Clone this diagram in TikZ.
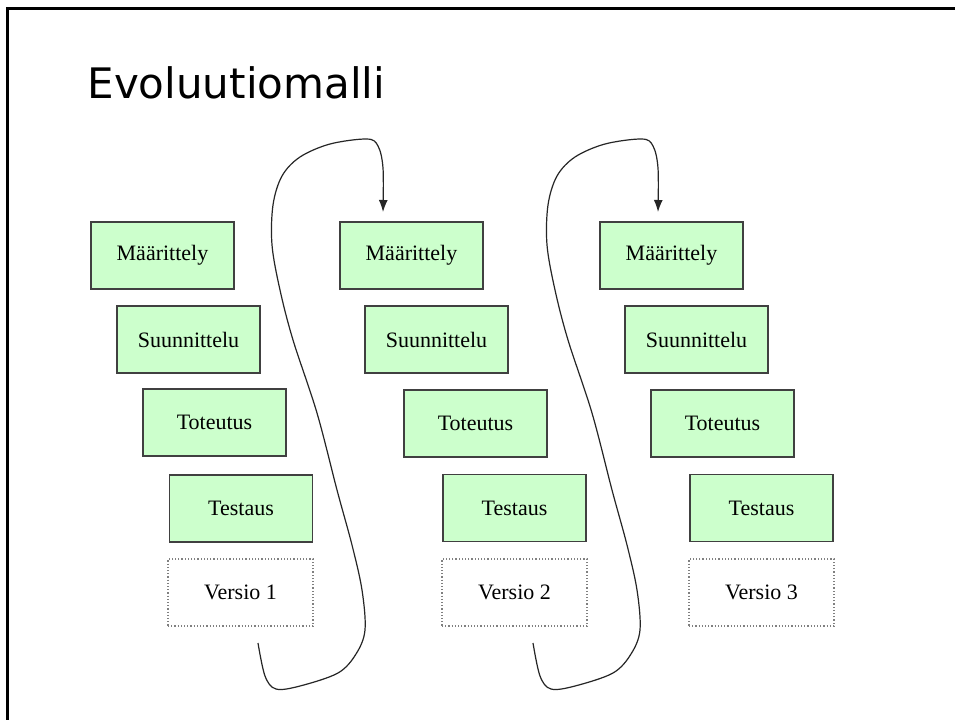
\documentclass[tikz,border=0pt]{standalone}
\usepackage{fontspec}
\setmainfont{Liberation Serif}
\newfontfamily\titlefont{DejaVu Sans}
\usetikzlibrary{arrows.meta}

\definecolor{phasefill}{HTML}{CCFFCC}
\definecolor{phaseline}{HTML}{404040}

\tikzset{
  phase/.style={draw=phaseline, line width=1.3pt, fill=phasefill,
    minimum width=143pt, minimum height=67pt, inner sep=0pt,
    font=\fontsize{22}{26}\selectfont},
  release/.style={draw=gray, dotted, line width=1.2pt, fill=white,
    minimum width=145pt, minimum height=67pt, inner sep=0pt,
    font=\fontsize{22}{26}\selectfont},
  loopline/.style={line width=1.2pt, draw=black!85,
    -{Latex[length=12pt,width=9pt]}},
  frameline/.style={line width=3pt, draw=black}
}

\begin{document}
\begin{tikzpicture}[x=1pt, y=-1pt]
  \useasboundingbox[fill=white] (0,0) rectangle (955,720);

  % slide frame (top and left edges)
  \coordinate (ftl) at (7.5,8.5);
  \coordinate (ftr) at (955,8.5);
  \coordinate (fbl) at (7.5,720);
  \draw[frameline] (ftr) -- (ftl) -- (fbl);

  \node[anchor=base west, font=\titlefont\fontsize{42}{50}\selectfont] (title)
    at (84,98) {Evoluutiomalli};

  % first iteration
  \node[phase] (m1) at (162.5,255.5) {Määrittely};
  \node[phase] (s1) at (188.5,339.5) {Suunnittelu};
  \node[phase] (t1) at (214.5,422.5) {Toteutus};
  \node[phase] (e1) at (241,508.5) {Testaus};
  \node[release] (v1) at (240.5,592.5) {Versio 1};

  % second iteration
  \node[phase] (m2) at (411.5,255.5) {Määrittely};
  \node[phase] (s2) at (436.5,339.5) {Suunnittelu};
  \node[phase] (t2) at (475.5,423.5) {Toteutus};
  \node[phase] (e2) at (514.5,508) {Testaus};
  \node[release] (v2) at (514.5,592.5) {Versio 2};

  % third iteration
  \node[phase] (m3) at (671.5,255.5) {Määrittely};
  \node[phase] (s3) at (696.5,339.5) {Suunnittelu};
  \node[phase] (t3) at (722.5,423.5) {Toteutus};
  \node[phase] (e3) at (761.5,508) {Testaus};
  \node[release] (v3) at (761.5,592.5) {Versio 3};

  % feedback loops from one release to the next definition phase
  \foreach \dx/\i in {0/1, 275/2} {
    \begin{scope}[xshift=\dx pt]
      \coordinate (loop\i start) at (258,643);
      \coordinate (loop\i end) at (383,212);
      \draw[loopline] plot[smooth, tension=0.55] coordinates {
        (loop\i start) (265,676) (276,689) (300,686) (338,673) (356,654)
        (365,630) (362,590) (352,545) (337,490) (317,413) (293,340)
        (280,290) (272,245) (273,205) (282,176) (300,157) (330,144)
        (367,139) (378,146) (383,168) (loop\i end)};
    \end{scope}
  }
\end{tikzpicture}
\end{document}
